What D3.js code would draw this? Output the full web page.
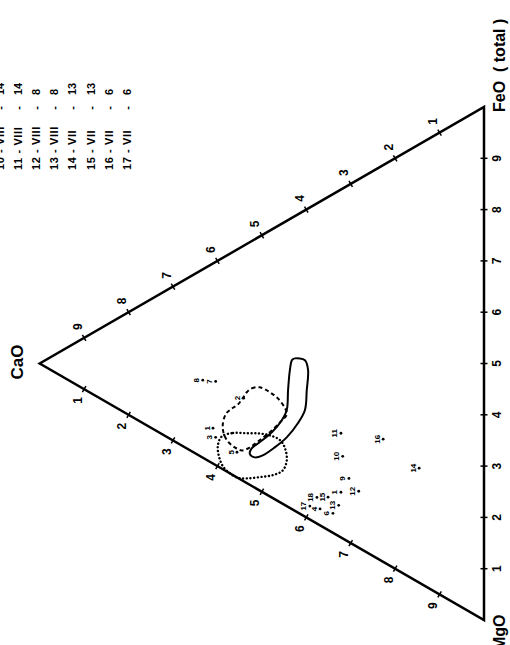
<!DOCTYPE html>
<html>
<head>
<meta charset="utf-8">
<script src="https://cdn.jsdelivr.net/npm/d3@7"></script>
<style>
  body { margin: 0; background: #fff; }
  svg { display: block; }
  text { font-family: "Liberation Sans", Arial, sans-serif; font-weight: bold; fill: #000; }
</style>
</head>
<body>
<svg id="chart" width="510" height="645"></svg>
<script>
// tick values on every side, in tenths
const TICKS = [1, 2, 3, 4, 5, 6, 7, 8, 9];

// legend: sampling date - number of analyses
const LEGEND_DATES = ["10 - VIII", "11 - VIII", "12 - VIII", "13 - VIII", "14 - VII", "15 - VII", "16 - VII", "17 - VII"];
const LEGEND_COUNTS = [14, 14, 8, 8, 13, 13, 6, 6];

// numbered analyses, CaO and MgO in % (FeO is the rest)
const POINT_LABELS = ["8", "7", "2", "1", "3", "5", "11", "16", "10", "14", "9", "1", "12", "18", "15", "17", "4", "13", "6"];
const POINT_CAO = [63.3, 60.4, 54.1, 61.0, 60.4, 55.6, 32.2, 22.7, 31.8, 14.6, 30.4, 32.2, 28.2, 37.6, 35.1, 39.2, 36.9, 32.7, 34.0];
const POINT_MGO = [21.6, 23.3, 29.7, 32.1, 34.2, 39.5, 47.5, 53.4, 52.2, 63.1, 57.2, 59.0, 60.8, 57.3, 58.5, 58.2, 59.9, 61.3, 62.2];

// outlined fields, [CaO, MgO] in %
const SOLID_FIELD = [
  [42.6, 27.7], [40.3, 29.2], [39.6, 31.5], [39.9, 35.3], [40.3, 38.9], [41.9, 40.7],
  [44.4, 42.2], [47.1, 42.8], [49.8, 43.0], [51.6, 42.5], [52.7, 41.3], [52.3, 40.4],
  [50.5, 40.1], [47.7, 39.5], [45.5, 38.3], [44.4, 36.9], [44.1, 33.1], [43.7, 29.5], [43.2, 27.7]
];
const DASHED_FIELD = [
  [53.4, 28.9], [52.3, 28.7], [50.5, 29.4], [48.2, 31.5], [46.4, 33.6], [44.8, 36.3],
  [44.4, 37.7], [45.9, 38.5], [48.2, 39.3], [50.5, 39.7], [52.7, 40.0], [54.5, 39.7],
  [56.1, 38.3], [57.7, 36.3], [58.6, 34.3], [58.8, 32.5], [58.1, 30.8], [56.8, 30.4],
  [55.4, 30.3], [54.3, 29.6]
];
const DOTTED_FIELD = [
  [59.0, 34.7], [56.5, 35.3], [53.4, 36.9], [50.5, 38.4], [48.2, 39.9], [45.9, 42.0],
  [44.8, 44.1], [44.4, 46.7], [45.3, 48.2], [47.5, 48.0], [50.5, 46.9], [53.4, 45.7],
  [55.4, 44.6], [57.2, 42.8], [58.8, 40.6], [59.7, 38.1], [59.9, 36.0]
];

// side of the triangle in px, and where the MgO corner sits on the page
const SIDE = 513;
const HEIGHT = SIDE * Math.sqrt(3) / 2;
const ORIGIN = [484, 620];

const LINE_WIDTH = 2.5;

const svg = d3.select("#chart");

// the whole figure is drawn upright and turned a quarter turn
const g = svg.append("g")
  .attr("transform", `translate(${ORIGIN[0]},${ORIGIN[1]}) rotate(-90)`);

const xScale = d3.scaleLinear().domain([0, 100]).range([0, SIDE]);
const yScale = d3.scaleLinear().domain([0, 100]).range([0, -HEIGHT]);

function proj(cao, mgo) {
  const feo = 100 - cao - mgo;
  return [xScale(feo + cao / 2), yScale(cao)];
}

// frame
const corners = [proj(0, 100), proj(0, 0), proj(100, 0)];
g.append("path")
  .attr("d", "M" + corners.join("L") + "Z")
  .attr("fill", "none")
  .attr("stroke", "#000")
  .attr("stroke-width", LINE_WIDTH)
  .attr("stroke-linejoin", "miter");

// ticks and their numbers
const sides = [
  { at: (k) => proj(0, 100 - k * 10), normal: [0, 1] },              // FeO along the base
  { at: (k) => proj(k * 10, 0), normal: [0.866, -0.5] },             // CaO on the FeO side
  { at: (k) => proj(100 - k * 10, k * 10), normal: [-0.866, -0.5] }  // MgO on the MgO side
];

sides.forEach((s) => {
  const tg = g.append("g");
  tg.selectAll("line")
    .data(TICKS)
    .join("line")
    .attr("x1", (k) => s.at(k)[0] - s.normal[0] * 3.5)
    .attr("y1", (k) => s.at(k)[1] - s.normal[1] * 3.5)
    .attr("x2", (k) => s.at(k)[0] + s.normal[0] * 3.5)
    .attr("y2", (k) => s.at(k)[1] + s.normal[1] * 3.5)
    .attr("stroke", "#000")
    .attr("stroke-width", 1.5);
  tg.selectAll("text")
    .data(TICKS)
    .join("text")
    .attr("x", (k) => s.at(k)[0] + s.normal[0] * 13)
    .attr("y", (k) => s.at(k)[1] + s.normal[1] * 13)
    .attr("text-anchor", "middle")
    .attr("dominant-baseline", "central")
    .attr("font-size", 12)
    .text((k) => k);
});

// corner names
g.append("text")
  .attr("x", 258).attr("y", -461)
  .attr("text-anchor", "middle")
  .attr("font-size", 17)
  .text("CaO");
g.append("text")
  .attr("x", -30).attr("y", 21)
  .attr("font-size", 16)
  .text("MgO");
g.append("text")
  .attr("x", 508).attr("y", 21)
  .attr("font-size", 16)
  .attr("xml:space", "preserve")
  .text("FeO  ( total )");

// fields
const closedCurve = d3.line()
  .x((d) => proj(d[0], d[1])[0])
  .y((d) => proj(d[0], d[1])[1])
  .curve(d3.curveCatmullRomClosed.alpha(0.5));

g.append("path")
  .attr("d", closedCurve(SOLID_FIELD))
  .attr("fill", "none")
  .attr("stroke", "#000")
  .attr("stroke-width", 2);

g.append("path")
  .attr("d", closedCurve(DASHED_FIELD))
  .attr("fill", "none")
  .attr("stroke", "#000")
  .attr("stroke-width", 2)
  .attr("stroke-dasharray", "4,3");

g.append("path")
  .attr("d", closedCurve(DOTTED_FIELD))
  .attr("fill", "none")
  .attr("stroke", "#000")
  .attr("stroke-width", 2.4)
  .attr("stroke-linecap", "round")
  .attr("stroke-dasharray", "0.1,3.6");

// numbered analyses
const points = POINT_LABELS.map((label, i) => ({
  label,
  pos: proj(POINT_CAO[i], POINT_MGO[i])
}));

const pg = g.append("g");
pg.selectAll("circle")
  .data(points)
  .join("circle")
  .attr("cx", (d) => d.pos[0])
  .attr("cy", (d) => d.pos[1])
  .attr("r", 1.4)
  .attr("fill", "#000");
pg.selectAll("text")
  .data(points)
  .join("text")
  .attr("x", (d) => d.pos[0])
  .attr("y", (d) => d.pos[1] - 6)
  .attr("text-anchor", "middle")
  .attr("dominant-baseline", "central")
  .attr("font-size", 8)
  .text((d) => d.label);

// legend, top right of the upright figure
const legend = g.append("g");
const rowY = (i) => 0.5 + 18.1 * i + 3.5 - ORIGIN[0];
legend.selectAll("text.date")
  .data(LEGEND_DATES)
  .join("text")
  .attr("class", "date")
  .attr("x", ORIGIN[1] - 170)
  .attr("y", (d, i) => rowY(i))
  .attr("font-size", 11)
  .attr("letter-spacing", 0.6)
  .text((d) => d);
legend.selectAll("text.dash")
  .data(LEGEND_DATES)
  .join("text")
  .attr("class", "dash")
  .attr("x", ORIGIN[1] - 108)
  .attr("y", (d, i) => rowY(i))
  .attr("text-anchor", "middle")
  .attr("font-size", 11)
  .text("-");
legend.selectAll("text.count")
  .data(LEGEND_COUNTS)
  .join("text")
  .attr("class", "count")
  .attr("x", ORIGIN[1] - 95)
  .attr("y", (d, i) => rowY(i))
  .attr("font-size", 11)
  .text((d) => d);
</script>
</body>
</html>
